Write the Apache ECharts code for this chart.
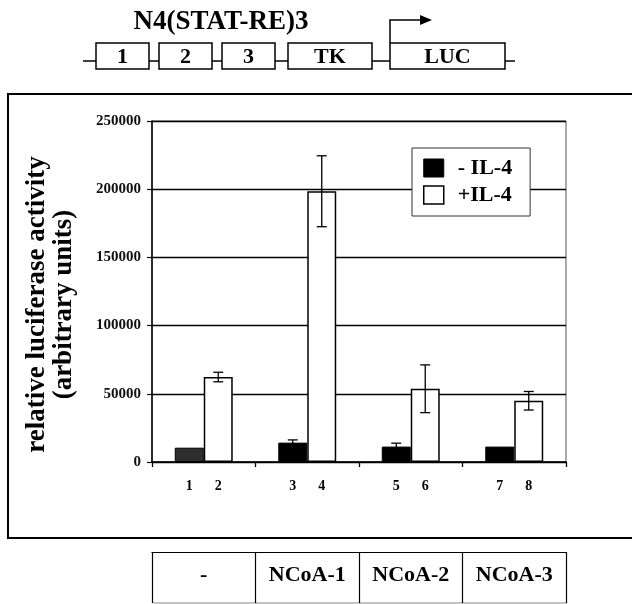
<!DOCTYPE html>
<html>
<head>
<meta charset="utf-8">
<script src="https://cdn.jsdelivr.net/npm/echarts@6/dist/echarts.min.js"></script>
<style>html,body{margin:0;padding:0;background:#fff;}#c{width:632px;height:604px;}</style>
</head>
<body>
<div id="c"></div>
<script>
// ---- data ----
const groups = ['-', 'NCoA-1', 'NCoA-2', 'NCoA-3'];
const laneMinus = ['1', '3', '5', '7'];
const lanePlus = ['2', '4', '6', '8'];
const minusIL4 = [10500, 14200, 11300, 11300];
const plusIL4 = [62300, 198500, 53700, 44900];
const minusErr = [0, 2000, 2500, 0];
const plusErr = [3500, 26000, 17500, 6800];
const seriesNames = ['- IL-4', '+IL-4'];
const yTickStep = 50000;
const yMax = 250000;
const constructLabel = 'N4(STAT-RE)3';
const constructParts = ['1', '2', '3', 'TK', 'LUC'];
const yTitle = 'relative luciferase activity\n(arbitrary units)';

const FONT = '"Liberation Serif", "DejaVu Serif", serif';
const BAR_FRAC = 0.28;

function errSeries(values, errs, sign) {
  return {
    type: 'custom',
    z: 10,
    silent: true,
    data: values.map((v, i) => [i, v, errs[i]]),
    renderItem: function (params, api) {
      const idx = api.value(0), v = api.value(1), e = api.value(2);
      if (!(e > 0)) return;
      const band = api.size([1, 0])[0];
      const bw = band * BAR_FRAC;
      const cx = api.coord([idx, v])[0] + sign * bw / 2;
      const top = api.coord([idx, v + e])[1];
      const bot = api.coord([idx, v - e])[1];
      const cap = 5;
      const st = { stroke: '#000', lineWidth: 1.3 };
      return {
        type: 'group',
        children: [
          { type: 'line', shape: { x1: cx, y1: top, x2: cx, y2: bot }, style: st },
          { type: 'line', shape: { x1: cx - cap, y1: top, x2: cx + cap, y2: top }, style: st },
          { type: 'line', shape: { x1: cx - cap, y1: bot, x2: cx + cap, y2: bot }, style: st }
        ]
      };
    }
  };
}

// diagram geometry (layout only)
const boxes = [[96, 149], [159, 212], [222, 275], [288, 372], [390, 505]];
const boxTop = 43, boxBot = 69, wireY = 61;
const diagram = [];
const lineSt = { stroke: '#000', lineWidth: 1.3 };
diagram.push({ type: 'line', shape: { x1: 83, y1: wireY, x2: 515, y2: wireY }, style: lineSt });
boxes.forEach((b, i) => {
  diagram.push({ type: 'rect', shape: { x: b[0], y: boxTop, width: b[1] - b[0], height: boxBot - boxTop },
    style: { fill: '#fff', stroke: '#000', lineWidth: 1.5 } });
  diagram.push({ type: 'text', x: (b[0] + b[1]) / 2, y: 57,
    style: { text: constructParts[i], font: 'bold 22px ' + FONT, fill: '#000', align: 'center', verticalAlign: 'middle' } });
});
diagram.push({ type: 'polyline', shape: { points: [[390, 43], [390, 20], [421, 20]] }, style: { stroke: '#000', lineWidth: 1.5, fill: null } });
diagram.push({ type: 'polygon', shape: { points: [[420, 15], [432, 20], [420, 25]] }, style: { fill: '#000' } });
diagram.push({ type: 'text', x: 221, y: 22,
  style: { text: constructLabel, font: 'bold 27px ' + FONT, fill: '#000', align: 'center', verticalAlign: 'middle' } });
// frame
diagram.push({ type: 'polyline', shape: { points: [[640, 94], [8, 94], [8, 538], [640, 538]] }, style: { stroke: '#000', lineWidth: 2, fill: null } });
// table bottom edge
diagram.push({ type: 'line', shape: { x1: 153, y1: 603, x2: 567, y2: 603 }, style: { stroke: '#888', lineWidth: 1 } });

const chart = echarts.init(document.getElementById('c'));
chart.setOption({
  backgroundColor: '#fff',
  animation: false,
  textStyle: { fontFamily: FONT },
  grid: { left: 152, right: 66, top: 121, bottom: 142, show: true, borderColor: '#555', borderWidth: 1 },
  legend: {
    data: [
      { name: seriesNames[0], itemStyle: { color: '#000', borderColor: '#000', borderWidth: 1 } },
      { name: seriesNames[1], itemStyle: { color: '#fff', borderColor: '#000', borderWidth: 1.5 } }
    ],
    orient: 'vertical',
    left: 412, top: 148,
    padding: [9, 18, 10, 11],
    itemWidth: 20, itemHeight: 18, itemGap: 5,
    borderColor: '#333', borderWidth: 1, backgroundColor: '#fff',
    icon: 'rect',
    textStyle: { fontSize: 22, fontWeight: 'bold', fontFamily: FONT, color: '#000', padding: [0, 0, 0, 9] }
  },
  xAxis: [{
    type: 'category',
    data: groups,
    axisLine: { lineStyle: { color: '#000', width: 1.5 } },
    axisTick: { show: true, length: 5, lineStyle: { color: '#000', width: 1.3 } },
    axisLabel: {
      interval: 0, margin: 17,
      formatter: function (val, i) { return '{a|' + laneMinus[i] + '}{a|' + lanePlus[i] + '}'; },
      rich: { a: { width: 29, align: 'center', fontSize: 14, fontWeight: 'bold', fontFamily: FONT, color: '#000' } }
    },
    splitLine: { show: false }
  }, {
    type: 'category',
    data: groups,
    position: 'bottom',
    offset: 90,
    axisLine: { show: true, lineStyle: { color: '#000', width: 1.2 } },
    axisTick: { show: true, length: 51, interval: 0, lineStyle: { color: '#000', width: 1.2 } },
    axisLabel: { interval: 0, margin: 12, fontSize: 22, fontWeight: 'bold', fontFamily: FONT, color: '#000' },
    splitLine: { show: false }
  }],
  yAxis: {
    type: 'value',
    min: 0, max: yMax, interval: yTickStep,
    name: yTitle,
    nameLocation: 'middle',
    nameRotate: 90,
    nameGap: 74,
    nameTextStyle: { fontSize: 27, fontWeight: 'bold', fontFamily: FONT, color: '#000', lineHeight: 27, align: 'center', padding: [0, 26, 0, 0] },
    axisLine: { show: true, lineStyle: { color: '#000', width: 1.5 } },
    axisTick: { show: true, length: 5, lineStyle: { color: '#000', width: 1.2 } },
    axisLabel: { margin: 11, fontSize: 15, fontWeight: 'bold', fontFamily: FONT, color: '#111',
      formatter: function (v) { return String(v); } },
    splitLine: { show: true, lineStyle: { color: '#000', width: 1.3 } }
  },
  series: [{
    name: seriesNames[0],
    type: 'bar',
    data: minusIL4,
    barWidth: (BAR_FRAC * 100) + '%',
    barGap: '0%',
    itemStyle: { color: function (p) { return p.dataIndex === 0 ? '#2e2e2e' : '#000'; }, borderColor: '#000', borderWidth: 1 }
  }, {
    name: seriesNames[1],
    type: 'bar',
    data: plusIL4,
    barWidth: (BAR_FRAC * 100) + '%',
    barGap: '0%',
    itemStyle: { color: '#fff', borderColor: '#000', borderWidth: 1.5 }
  },
  errSeries(minusIL4, minusErr, -1),
  errSeries(plusIL4, plusErr, 1)
  ],
  graphic: diagram
});
</script>
</body>
</html>
